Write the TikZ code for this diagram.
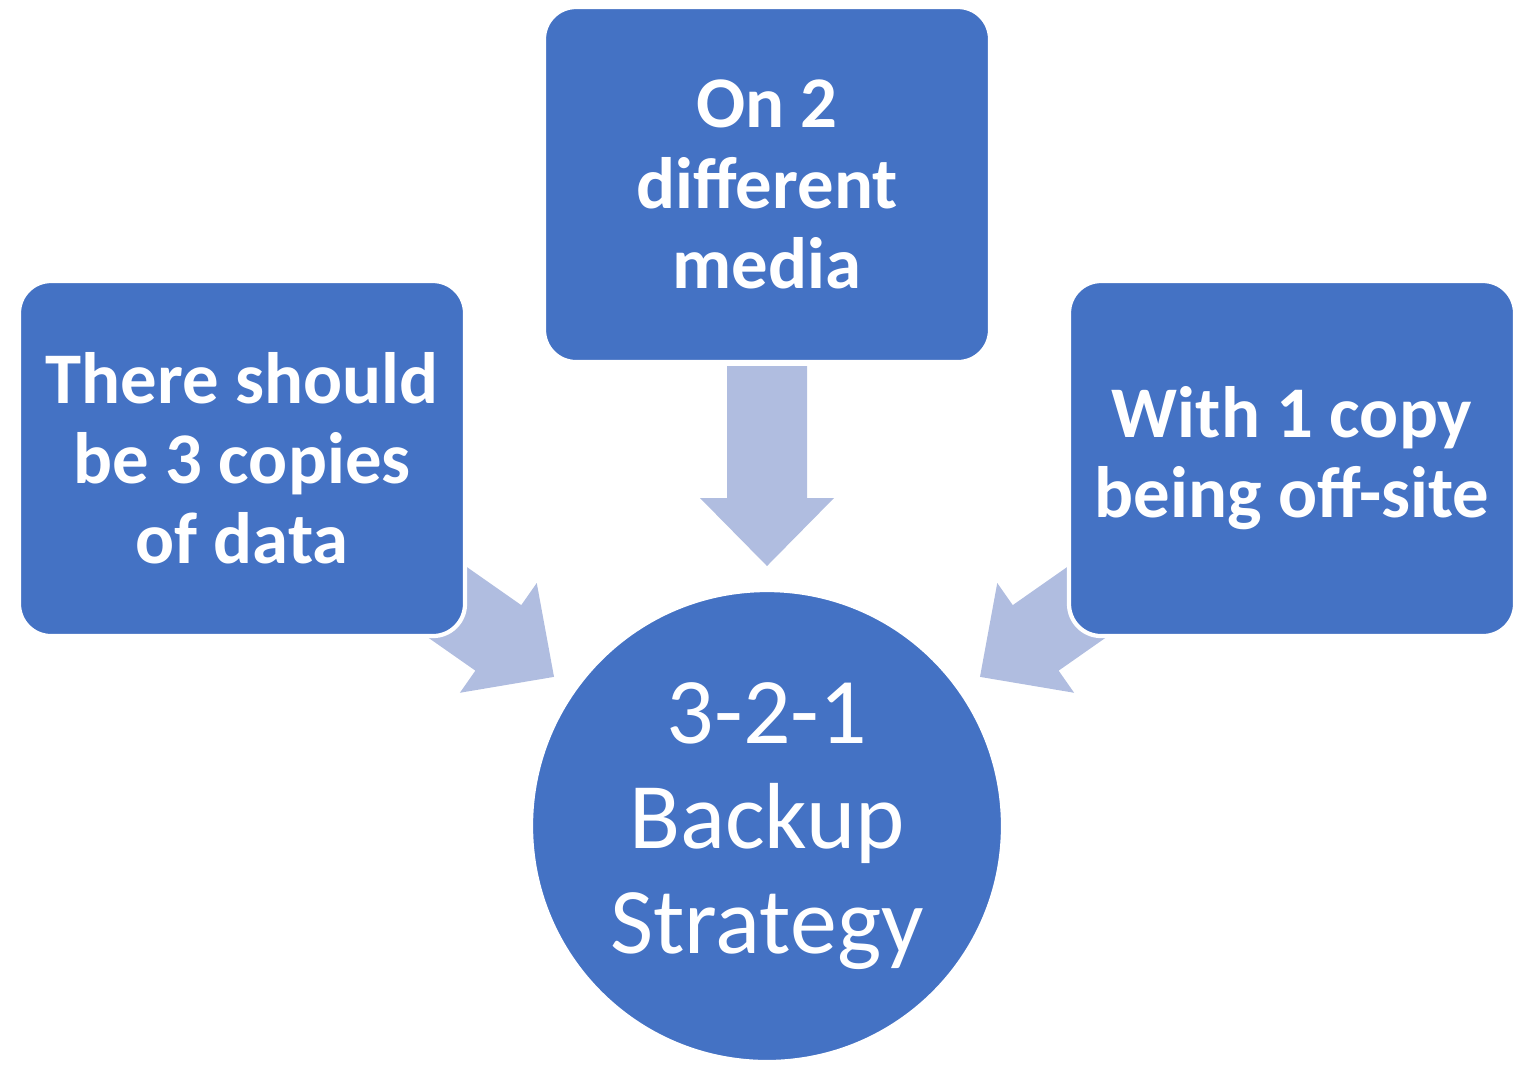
\documentclass[tikz,border=0pt]{standalone}
\usepackage{fontspec}
\setmainfont{Carlito}
\usepackage{tikz}
\usetikzlibrary{calc}

\definecolor{boxblue}{RGB}{68,114,196}
\definecolor{arrowblue}{RGB}{176,189,224}

\tikzset{
  stepbox/.style={rectangle,rounded corners=0.32cm,fill=boxblue,draw=white,line width=1.2pt,
    minimum width=4.46cm,minimum height=3.55cm,align=center,text=white,
    font=\bfseries\fontsize{20.7}{22.8}\selectfont},
  hub/.style={circle,fill=boxblue,draw=white,line width=1.2pt,minimum size=4.72cm,inner sep=0pt,
    align=center,text=white,font=\fontsize{26.7}{29.9}\selectfont},
  pics/feedarrow/.style={code={
    \fill[arrowblue] (0,0) -- (0.68,0.67) -- (0.68,0.40) -- (2.00,0.40)
      -- (2.00,-0.40) -- (0.68,-0.40) -- (0.68,-0.67) -- cycle;}}
}

\begin{document}
\begin{tikzpicture}
  \useasboundingbox (0,0) rectangle (15.36,-10.67);
  % centre
  \node[hub] (strat) at (7.67,-8.26) {3-2-1\\Backup\\Strategy};
  % arrows into the centre
  \pic[rotate=145] at ($(strat.center)+(145:2.6)$) {feedarrow};
  \pic[rotate=90] at ($(strat.center)+(90:2.6)$) {feedarrow};
  \pic[rotate=35] at ($(strat.center)+(35:2.6)$) {feedarrow};
  % the three rules
  \node[stepbox] (copies) at (2.42,-4.585) {There should\\be 3 copies\\of data};
  \node[stepbox] (media) at (7.67,-1.845) {On 2\\different\\media};
  \node[stepbox] (offsite) at (12.92,-4.585) {With 1 copy\\being off-site};
\end{tikzpicture}
\end{document}
